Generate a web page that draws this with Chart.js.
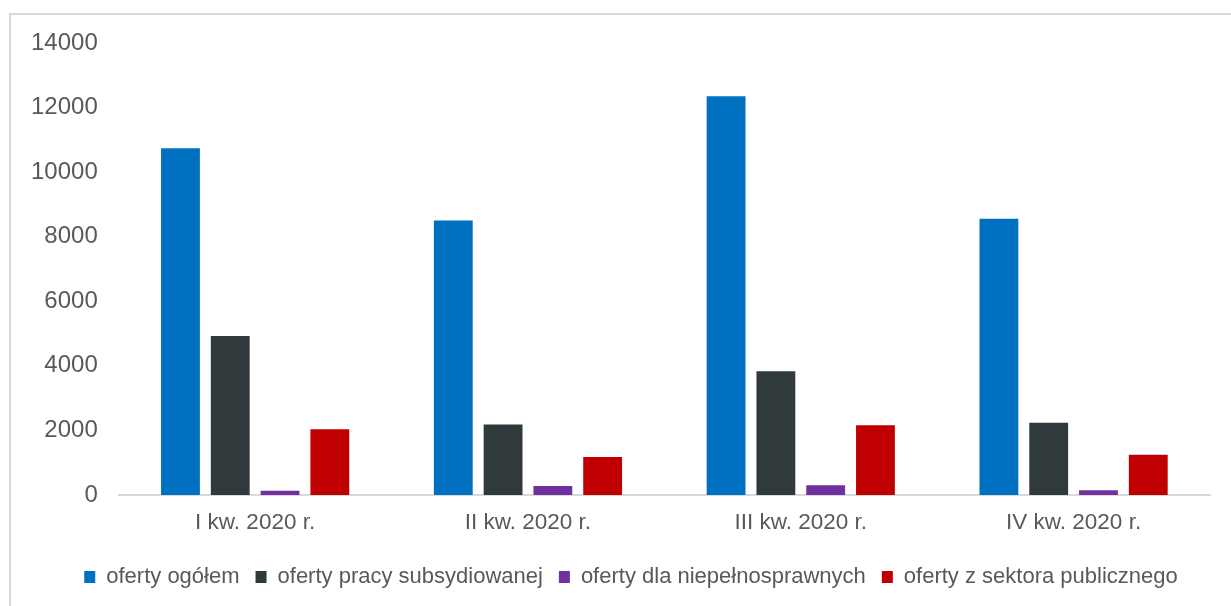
<!DOCTYPE html>
<html>
<head>
<meta charset="utf-8">
<script src="https://cdn.jsdelivr.net/npm/chart.js@4/dist/chart.umd.min.js"></script>
<style>
  html, body { margin: 0; padding: 0; background: #ffffff; overflow: hidden; }
  #frame { position: absolute; left: 9px; top: 13px; width: 1240px; height: 620px; border: 2px solid #d9d9d9; box-sizing: border-box; }
  #wrap { position: absolute; left: 0; top: 0; width: 1231px; height: 606px; }
</style>
</head>
<body>
<div id="frame"></div>
<div id="wrap"><canvas id="c" width="1231" height="606"></canvas></div>
<script>
const categories = ["I kw. 2020 r.", "II kw. 2020 r.", "III kw. 2020 r.", "IV kw. 2020 r."];
const seriesNames = ["oferty ogółem", "oferty pracy subsydiowanej", "oferty dla niepełnosprawnych", "oferty z sektora publicznego"];
const ofertyOgolem = [10740, 8500, 12350, 8560];
const ofertySubsydiowane = [4925, 2180, 3830, 2240];
const ofertyNiepelnosprawni = [130, 280, 300, 150];
const ofertySektorPubliczny = [2040, 1180, 2160, 1250];
const yTicks = [0, 2000, 4000, 6000, 8000, 10000, 12000, 14000];
const colors = ["#0070c0", "#30393b", "#7030a0", "#c00000"];

const seriesValues = [ofertyOgolem, ofertySubsydiowane, ofertyNiepelnosprawni, ofertySektorPubliczny];
const FONT = "'Liberation Sans', Arial, sans-serif";

const legendShift = {
  id: 'legendShift',
  afterLayout(chart) {
    const l = chart.legend;
    if (l) { l.left += 21; l.right += 21; }
  }
};

new Chart(document.getElementById('c'), {
  type: 'bar',
  data: {
    labels: categories,
    datasets: seriesNames.map((name, i) => ({
      label: name,
      data: seriesValues[i],
      backgroundColor: colors[i],
      borderWidth: 0,
      categoryPercentage: 0.73,
      barPercentage: 0.78
    }))
  },
  plugins: [legendShift],
  options: {
    responsive: false,
    animation: false,
    devicePixelRatio: 1,
    layout: { padding: { left: 10, right: 21, top: 43, bottom: 8 } },
    plugins: {
      tooltip: { enabled: false },
      legend: {
        position: 'bottom',
        labels: {
          color: '#595959',
          font: { family: FONT, size: 22 },
          boxWidth: 11,
          boxHeight: 12,
          padding: 16,
          useBorderRadius: false
        }
      }
    },
    scales: {
      x: {
        grid: { display: false, drawTicks: false },
        border: { display: true, color: '#d9d9d9', width: 2 },
        ticks: { color: '#595959', font: { family: FONT, size: 22.5 }, padding: 14 }
      },
      y: {
        min: 0,
        max: 14000,
        afterBuildTicks: (axis) => { axis.ticks = yTicks.map(v => ({ value: v })); },
        grid: { display: false, drawTicks: false },
        border: { display: false },
        ticks: {
          color: '#595959',
          font: { family: FONT, size: 24 },
          padding: 21,
          callback: (v) => String(v)
        }
      }
    }
  }
});
</script>
</body>
</html>
